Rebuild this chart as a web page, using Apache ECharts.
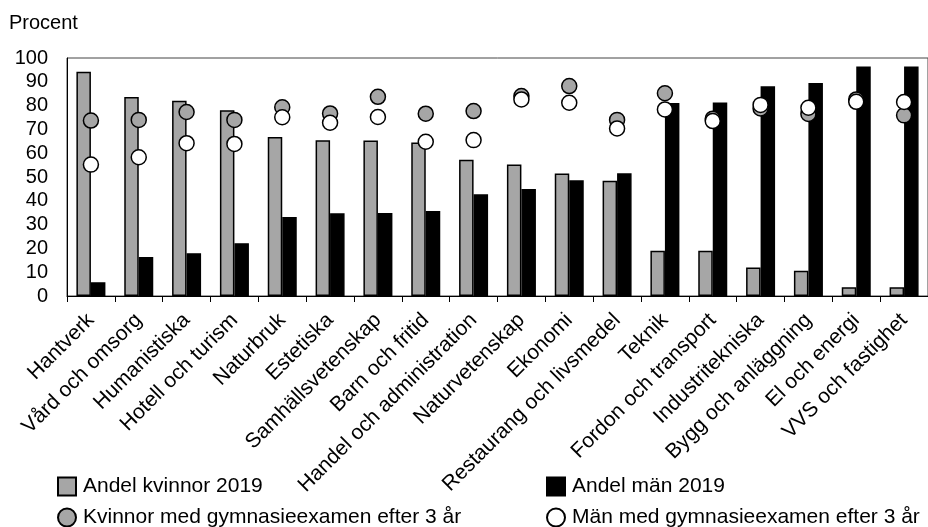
<!DOCTYPE html>
<html>
<head>
<meta charset="utf-8">
<script src="https://cdn.jsdelivr.net/npm/echarts@6/dist/echarts.min.js"></script>
<style>
html,body{margin:0;padding:0;background:#fff;}
#chart{width:928px;height:527px;}
</style>
</head>
<body>
<div id="chart"></div>
<script>
const categories = ["Hantverk","Vård och omsorg","Humanistiska","Hotell och turism","Naturbruk","Estetiska","Samhällsvetenskap","Barn och fritid","Handel och administration","Naturvetenskap","Ekonomi","Restaurang och livsmedel","Teknik","Fordon och transport","Industritekniska","Bygg och anläggning","El och energi","VVS och fastighet"];
const women2019 = [94.2, 83.6, 82.0, 78.0, 66.8, 65.4, 65.3, 64.5, 57.3, 55.2, 51.5, 48.4, 19.0, 19.0, 12.0, 10.6, 3.7, 3.7];
const men2019 = [5.8, 16.4, 18.0, 22.2, 33.2, 34.8, 34.9, 35.7, 42.8, 45.0, 48.6, 51.6, 81.1, 81.3, 88.1, 89.5, 96.4, 96.4];
const womenExam = [73.7, 74.0, 77.3, 74.0, 79.3, 76.7, 83.7, 76.6, 77.7, 84.0, 88.2, 74.0, 85.2, 74.5, 78.8, 76.5, 82.6, 75.9];
const menExam = [55.2, 58.3, 64.2, 63.9, 75.1, 72.8, 75.2, 64.8, 65.5, 82.6, 81.2, 70.4, 78.4, 73.5, 80.3, 79.1, 81.6, 81.5];
const yTicks = [0,10,20,30,40,50,60,70,80,90,100];

const FONT = '"Liberation Sans", Arial, sans-serif';
const names = ["Andel kvinnor 2019","Andel män 2019","Kvinnor med gymnasieexamen efter 3 år","Män med gymnasieexamen efter 3 år"];

function leg(name, icon, left, top){
  return {orient:'horizontal', left:left, top:top, padding:0, itemWidth:18, itemHeight:18,
    data:[{name:name, icon:icon}],
    textStyle:{fontFamily:FONT, fontSize:21, color:'#000', padding:[0,0,0,2]}};
}

const chart = echarts.init(document.getElementById('chart'), null, {renderer:'canvas'});
chart.setOption({
  animation:false,
  backgroundColor:'#fff',
  textStyle:{fontFamily:FONT, color:'#000'},
  title:{text:'Procent', left:4, top:8, textStyle:{fontFamily:FONT, fontSize:20, fontWeight:'normal', color:'#000'}},
  grid:{left:67, top:58, bottom:231, width:865, show:true, borderColor:'#444', borderWidth:1, containLabel:false},
  legend:[
    leg(names[0], 'rect', 57, 476),
    leg(names[2], 'circle', 57, 507),
    leg(names[1], 'rect', 546, 476),
    leg(names[3], 'circle', 546, 507)
  ],
  xAxis:{type:'category', data:categories,
    axisLine:{lineStyle:{color:'#000', width:1}},
    axisTick:{show:true, length:6, lineStyle:{color:'#000'}},
    axisLabel:{interval:0, rotate:45, fontSize:21, color:'#000', fontFamily:FONT, margin:21},
    splitLine:{show:false}},
  yAxis:{type:'value', min:yTicks[0], max:yTicks[yTicks.length-1], interval:10,
    axisLine:{show:true, lineStyle:{color:'#000', width:1}},
    axisTick:{show:false},
    axisLabel:{fontSize:20, color:'#000', fontFamily:FONT, margin:19},
    splitLine:{show:false}},
  series:[
    {name:names[0], type:'bar', data:women2019, barWidth:14.5, barGap:'0%',
     itemStyle:{color:'#a6a6a6', borderColor:'#000', borderWidth:1.5}},
    {name:names[1], type:'bar', data:men2019, barWidth:14.5, barGap:'0%',
     itemStyle:{color:'#000', borderColor:'#000', borderWidth:1.5}},
    {name:names[2], type:'scatter', data:womenExam, symbol:'circle', symbolSize:15, z:5,
     itemStyle:{color:'#a6a6a6', borderColor:'#000', borderWidth:1.5, opacity:1}},
    {name:names[3], type:'scatter', data:menExam, symbol:'circle', symbolSize:15, z:6,
     itemStyle:{color:'#fff', borderColor:'#000', borderWidth:1.5, opacity:1}}
  ]
});
</script>
</body>
</html>
